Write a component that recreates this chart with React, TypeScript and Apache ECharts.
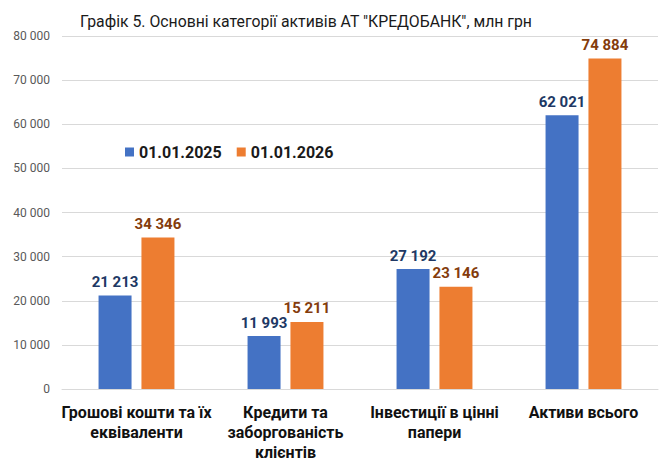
import React, { useEffect, useRef } from "react";
import * as echarts from "echarts";

const categories = [
  "Грошові кошти та їх\nеквіваленти",
  "Кредити та\nзаборгованість\nклієнтів",
  "Інвестиції в цінні\nпапери",
  "Активи всього",
];
const series2025 = [21213, 11993, 27192, 62021];
const series2026 = [34346, 15211, 23146, 74884];
const seriesNames = ["01.01.2025", "01.01.2026"];
const titleText = 'Графік 5. Основні категорії активів АТ "КРЕДОБАНК", млн грн';

const FONT = 'Roboto, "Noto Sans", sans-serif';

const fmt = (v: number) => {
  const s = Math.round(v).toString();
  return s.replace(/\B(?=(\d{3})+(?!\d))/g, " ");
};

export default function App() {
  const ref = useRef<HTMLDivElement>(null);
  useEffect(() => {
    if (!ref.current) return;
    const chart = echarts.init(ref.current, undefined, { renderer: "svg" });
    chart.setOption({
      animation: false,
      backgroundColor: "#ffffff",
      title: {
        text: titleText,
        left: 75,
        top: 8,
        textStyle: { fontFamily: FONT, fontSize: 15.8, fontWeight: "normal", color: "#1a1a1a" },
      },
      legend: {
        data: seriesNames,
        left: 120,
        top: 139,
        itemWidth: 9,
        itemHeight: 9,
        itemGap: 15,
        icon: "rect",
        textStyle: { fontFamily: FONT, fontSize: 16, fontWeight: "bold", color: "#1a1a1a" },
      },
      grid: { left: 62, right: 12, top: 36, bottom: 71, containLabel: false },
      xAxis: {
        type: "category",
        data: categories,
        axisLine: { lineStyle: { color: "#d9d9d9" } },
        axisTick: { show: false },
        axisLabel: {
          fontFamily: FONT,
          fontSize: 16,
          fontWeight: "bold",
          color: "#111111",
          lineHeight: 20,
          margin: 13,
          interval: 0,
        },
      },
      yAxis: {
        type: "value",
        min: 0,
        max: 80000,
        interval: 10000,
        axisLabel: {
          fontFamily: FONT,
          fontSize: 12,
          color: "#595959",
          margin: 12,
          formatter: (v: number) => fmt(v),
        },
        splitLine: { lineStyle: { color: "#d9d9d9" } },
        axisLine: { show: false },
        axisTick: { show: false },
      },
      series: [
        {
          name: seriesNames[0],
          type: "bar",
          data: series2025,
          barWidth: 33,
          barGap: "30%",
          itemStyle: { color: "#4472C4" },
          label: {
            show: true,
            position: "top",
            distance: 6,
            fontFamily: FONT,
            fontSize: 15,
            fontWeight: "bold",
            color: "#203864",
            formatter: (p: any) => fmt(p.value),
          },
        },
        {
          name: seriesNames[1],
          type: "bar",
          data: series2026,
          barWidth: 33,
          barGap: "30%",
          itemStyle: { color: "#ED7D31" },
          label: {
            show: true,
            position: "top",
            distance: 6,
            fontFamily: FONT,
            fontSize: 15,
            fontWeight: "bold",
            color: "#843C0C",
            formatter: (p: any) => fmt(p.value),
          },
        },
      ],
    });
    return () => chart.dispose();
  }, []);
  return <div ref={ref} style={{ width: 670, height: 462, position: "absolute", left: 0, top: 0 }} />;
}
